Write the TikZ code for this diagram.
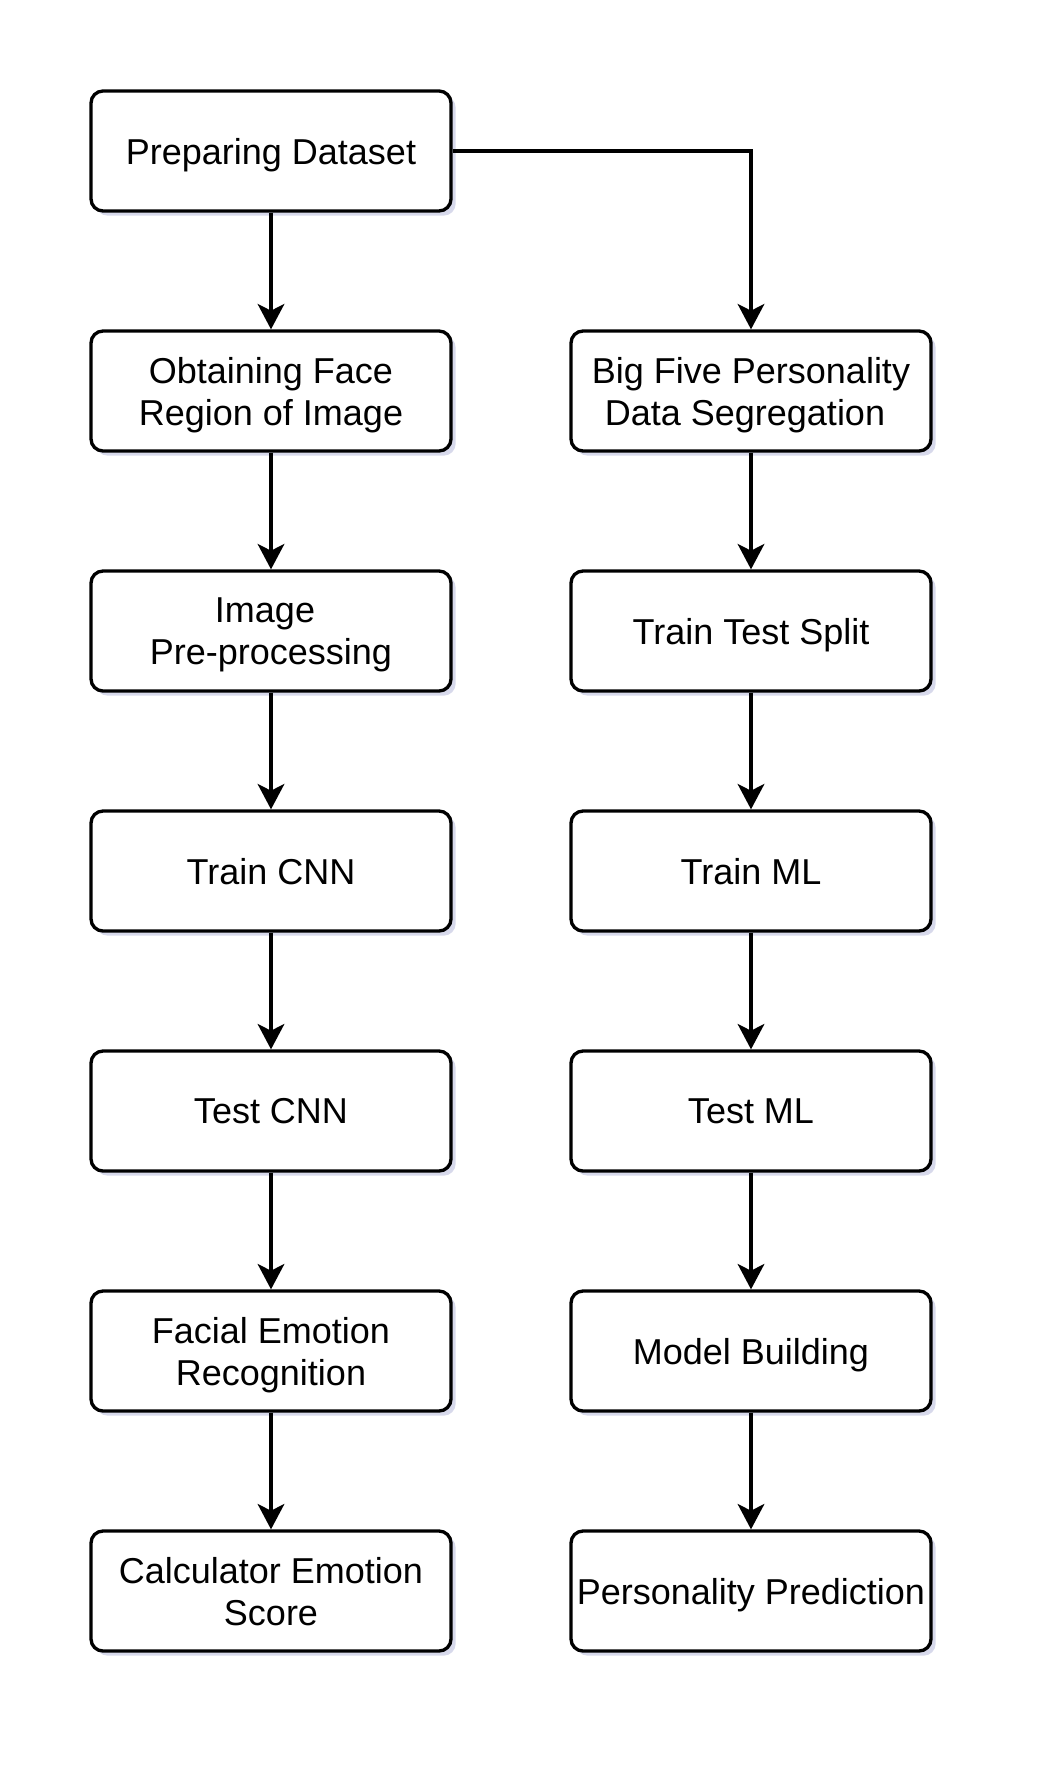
\documentclass[tikz,border=0pt]{standalone}
\usepackage{fontspec}
\setmainfont{Liberation Sans}
\usetikzlibrary{arrows.meta,shadows}
\definecolor{shadowc}{RGB}{205,207,230}
\begin{document}
\begin{tikzpicture}[x=0.75pt,y=-0.75pt,
  box/.style={draw=black, line width=2.5pt, rounded corners=9pt, fill=white,
    minimum width=270pt, minimum height=90pt, inner sep=0pt, align=center,
    text depth=0pt,
    font=\fontsize{27pt}{31.5pt}\selectfont,
    drop shadow={shadow xshift=3.5pt, shadow yshift=-3.5pt, fill=shadowc, opacity=0.8}},
  link/.style={line width=2.5pt, -{Stealth[length=19pt,width=20pt,inset=5pt]}}]
\useasboundingbox (0,0) rectangle (1056,1776);
% left column
\node[box] (pd) at (271,151) {Preparing Dataset};
\node[box] (of) at (271,391) {Obtaining Face\\Region of Image};
\node[box] (ip) at (271,631) {Image\hspace*{9pt}\\Pre-processing};
\node[box] (tc) at (271,871) {Train CNN};
\node[box] (te) at (271,1111) {Test CNN};
\node[box] (fe) at (271,1351) {Facial Emotion\\Recognition};
\node[box] (ce) at (271,1591) {Calculator Emotion\\Score};
% right column
\node[box] (bf) at (751,391) {Big Five Personality\\Data Segregation\hspace*{9pt}};
\node[box] (ts) at (751,631) {Train Test Split};
\node[box] (tm) at (751,871) {Train ML};
\node[box] (tl) at (751,1111) {Test ML};
\node[box] (mb) at (751,1351) {Model Building};
\node[box] (pp) at (751,1591) {Personality Prediction};
% connectors
\draw[link] (pd) -- (of);
\draw[link] (of) -- (ip);
\draw[link] (ip) -- (tc);
\draw[link] (tc) -- (te);
\draw[link] (te) -- (fe);
\draw[link] (fe) -- (ce);
\draw[link] (pd.east) -| (bf.north);
\draw[link] (bf) -- (ts);
\draw[link] (ts) -- (tm);
\draw[link] (tm) -- (tl);
\draw[link] (tl) -- (mb);
\draw[link] (mb) -- (pp);
\end{tikzpicture}
\end{document}
